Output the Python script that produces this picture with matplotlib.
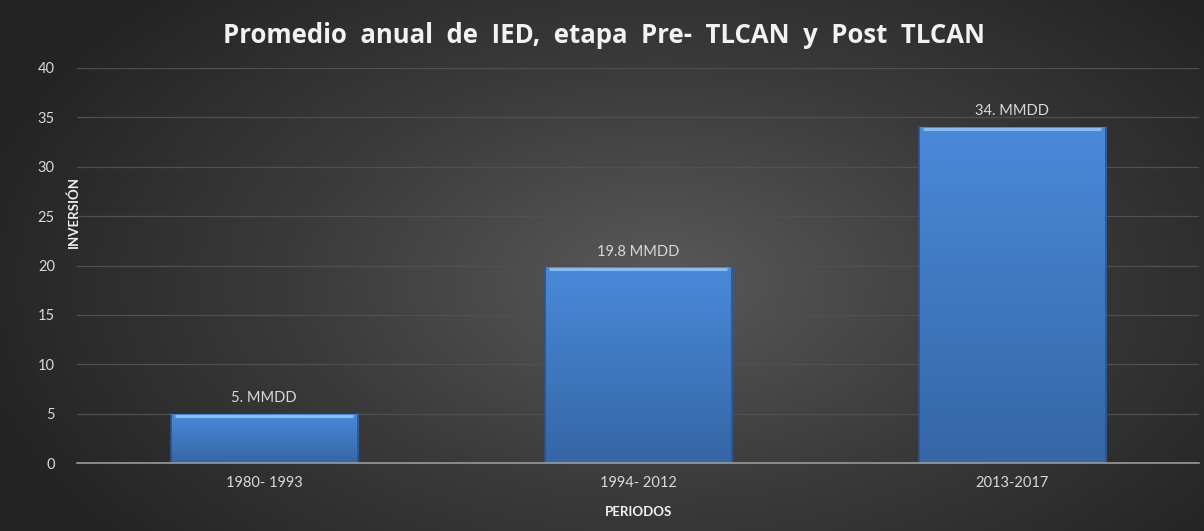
import numpy as np
import matplotlib.pyplot as plt
from matplotlib.colors import LinearSegmentedColormap

# data
periodos = ['1980- 1993', '1994- 2012', '2013-2017']
inversion = [5.0, 19.8, 34.0]
etiquetas = ['5. MMDD', '19.8 MMDD', '34. MMDD']

plt.rcParams['font.family'] = ['Lato', 'DejaVu Sans']

fig = plt.figure(figsize=(12.04, 5.31), dpi=100)

# radial gradient background
bg = fig.add_axes([0, 0, 1, 1], zorder=0)
yy, xx = np.mgrid[0:531, 0:1204]
r = np.sqrt(((xx - 660) / 720.0) ** 2 + ((yy - 280) / 420.0) ** 2)
r = np.clip(r, 0, 1)
bg_cmap = LinearSegmentedColormap.from_list('bg', ['#595959', '#3b3b3b', '#232323'])
bg.imshow(r, cmap=bg_cmap, aspect='auto', extent=[0, 1, 0, 1], vmin=0, vmax=1)
bg.axis('off')

ax = fig.add_axes([0.064, 0.128, 0.932, 0.744], zorder=1)
ax.patch.set_alpha(0)

x = np.arange(len(periodos))
bars = ax.bar(x, inversion, width=0.5, color='#4a86d4', zorder=3)

# vertical gradient inside each bar
bar_cmap = LinearSegmentedColormap.from_list('bar', ['#3566a6', '#4a89d9'])
grad = np.linspace(0, 1, 256).reshape(-1, 1)
for b in bars:
    x0, w, h = b.get_x(), b.get_width(), b.get_height()
    im = ax.imshow(grad, cmap=bar_cmap, aspect='auto', origin='lower',
                   extent=[x0, x0 + w, 0, h], zorder=4)
    im.set_clip_path(b)
    # bevel highlight on top
    ax.plot([x0 + 0.012, x0 + w - 0.012], [h - 0.2, h - 0.2], color='#86bcf2',
            lw=2.2, zorder=5, solid_capstyle='butt')
    ax.plot([x0, x0], [0, h], color='#2c5488', lw=1.2, zorder=5)
    ax.plot([x0 + w, x0 + w], [0, h], color='#2c5488', lw=1.2, zorder=5)

for xi, v, lab in zip(x, inversion, etiquetas):
    ax.text(xi, v + 0.9, lab, ha='center', va='bottom', color='#d9d9d9', fontsize=10.5)

ax.set_xlim(-0.5, 2.5)
ax.set_ylim(0, 40)
ax.set_yticks(range(0, 41, 5))
ax.set_xticks(x)
ax.set_xticklabels(periodos)
ax.tick_params(colors='#d9d9d9', labelsize=10.5, length=0)
ax.tick_params(axis='y', pad=16)
ax.tick_params(axis='x', pad=9)
ax.grid(axis='y', color='#505050', lw=0.9, zorder=1)
ax.set_axisbelow(True)
for s in ['top', 'right', 'left']:
    ax.spines[s].set_visible(False)
ax.spines['bottom'].set_color('#9a9a9a')
ax.spines['bottom'].set_linewidth(1.2)
ax.spines['bottom'].set_zorder(6)

title = fig.text(0.502, 0.934, 'Promedio  anual  de  IED,  etapa  Pre-  TLCAN  y  Post  TLCAN',
                 ha='center', va='center', color='#f2f2f2', fontsize=18.5, fontweight='bold',
                 family=['Open Sans', 'DejaVu Sans'])
fig.text(0.061, 0.60, 'INVERSIÓN', rotation=90, ha='center', va='center',
         color='#f2f2f2', fontsize=9.5, fontweight='bold')
fig.text(0.53, 0.035, 'PERIODOS', ha='center', va='center',
         color='#f2f2f2', fontsize=9.5, fontweight='bold')

fig.savefig('out.png', dpi=100)
